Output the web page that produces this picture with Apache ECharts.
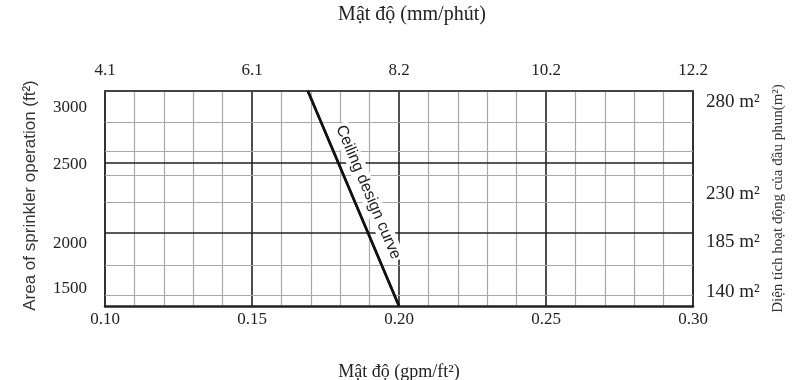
<!DOCTYPE html>
<html>
<head>
<meta charset="utf-8">
<script src="https://cdn.jsdelivr.net/npm/echarts@6/dist/echarts.min.js"></script>
<style>html,body{margin:0;padding:0;background:#fff}#c{width:800px;height:380px}</style>
</head>
<body>
<div id="c"></div>
<script>
// ---- data ----
const curveX = [0.169, 0.200];          // density gpm/ft2
const curveY = [3015, 1480];            // area ft2
const curveName = 'Ceiling design curve';
const bottomTicks = ['0.10', '0.15', '0.20', '0.25', '0.30'];
const topTicks = ['4.1', '6.1', '8.2', '10.2', '12.2'];
const leftTickPos = [1602, 1924, 2488, 2895];
const leftTickText = ['1500', '2000', '2500', '3000'];
const rightTickPos = [1581, 1938, 2281, 2938];
const rightTickText = ['140 m²', '185 m²', '230 m²', '280 m²'];
const hMinorLines = [1560, 1774, 2221, 2411, 2588, 2793];
const hMajorLines = [2000, 2500];

const serif = 'Liberation Serif';
const sans = 'Liberation Sans';
const yMin = 1480, yMax = 3015;

const chart = echarts.init(document.getElementById('c'));
const gridLines = [];
hMinorLines.forEach(v => gridLines.push({ yAxis: v, lineStyle: { color: '#a8a8a8', width: 1.2, type: 'solid' } }));
hMajorLines.forEach(v => gridLines.push({ yAxis: v, lineStyle: { color: '#222', width: 1.6, type: 'solid' } }));

chart.setOption({
  animation: false,
  grid: { left: 105, right: 107, top: 91, bottom: 74, outerBoundsMode: 'none', containLabel: false },
  xAxis: [{
    type: 'value', position: 'bottom', min: 0.10, max: 0.30, interval: 0.05,
    name: 'Mật độ (gpm/ft²)', nameLocation: 'middle', nameGap: 57,
    nameTextStyle: { fontFamily: serif, fontSize: 18, color: '#222' },
    axisLine: { show: true, onZero: false, lineStyle: { color: '#222', width: 2.5 } },
    axisTick: { show: false },
    axisLabel: { fontFamily: serif, fontSize: 17, color: '#222', margin: 5,
      formatter: (v, i) => bottomTicks[i] !== undefined ? bottomTicks[i] : '' },
    splitLine: { show: true, lineStyle: { color: '#222', width: 1.6 } },
    minorTick: { show: false, splitNumber: 5 },
    minorSplitLine: { show: true, lineStyle: { color: '#a8a8a8', width: 1.2 } }
  }, {
    type: 'value', position: 'top', min: 0.10, max: 0.30, interval: 0.05,
    name: 'Mật độ (mm/phút)', nameLocation: 'middle', nameGap: 66,
    nameTextStyle: { fontFamily: serif, fontSize: 20, color: '#222', padding: [0, 0, 0, 26] },
    axisLine: { show: true, onZero: false, lineStyle: { color: '#444', width: 2 } },
    axisTick: { show: false },
    axisLabel: { fontFamily: serif, fontSize: 17, color: '#222', margin: 12,
      formatter: (v, i) => topTicks[i] !== undefined ? topTicks[i] : '' },
    splitLine: { show: false }
  }],
  yAxis: [{
    type: 'value', position: 'left', min: yMin, max: yMax,
    name: 'Area of sprinkler operation (ft²)', nameLocation: 'middle', nameGap: 66, nameRotate: 90,
    nameTextStyle: { fontFamily: sans, fontSize: 17, color: '#333', padding: [0, 0, 0, 6] },
    axisLine: { show: true, onZero: false, lineStyle: { color: '#333', width: 2 } },
    axisTick: { show: false },
    axisLabel: { fontFamily: serif, fontSize: 17, color: '#222', margin: 18,
      customValues: leftTickPos,
      formatter: (v) => { const k = leftTickPos.indexOf(v); return k >= 0 ? leftTickText[k] : ''; } },
    splitLine: { show: false }
  }, {
    type: 'value', position: 'right', min: yMin, max: yMax,
    name: 'Diện tích hoạt động của đầu phun(m²)', nameLocation: 'middle', nameGap: 78, nameRotate: 90,
    nameTextStyle: { fontFamily: serif, fontSize: 15, color: '#333' },
    axisLine: { show: true, onZero: false, lineStyle: { color: '#333', width: 2 } },
    axisTick: { show: false },
    axisLabel: { fontFamily: serif, fontSize: 19, color: '#222', margin: 13,
      customValues: rightTickPos,
      formatter: (v) => { const k = rightTickPos.indexOf(v); return k >= 0 ? rightTickText[k] : ''; } },
    splitLine: { show: false }
  }],
  series: [{
    name: 'grid', type: 'line', data: [], xAxisIndex: 0, yAxisIndex: 0, z: 1,
    markLine: { silent: true, symbol: 'none', label: { show: false }, animation: false, data: gridLines }
  }, {
    name: curveName, type: 'line', xAxisIndex: 0, yAxisIndex: 0, z: 5,
    data: curveX.map((x, i) => [x, curveY[i]]),
    symbol: 'none', lineStyle: { color: '#111', width: 2.5 },
    markLine: {
      silent: true, symbol: 'none', animation: false,
      lineStyle: { color: '#111', width: 2.5, type: 'solid' },
      label: { show: true, position: 'insideMiddleTop', distance: 7, formatter: curveName,
        fontFamily: sans, fontSize: 16, color: '#222', backgroundColor: '#fff', padding: [1, 2] },
      data: [[{ coord: [curveX[0], curveY[0]] }, { coord: [curveX[1], curveY[1]] }]]
    }
  }]
});
</script>
</body>
</html>
